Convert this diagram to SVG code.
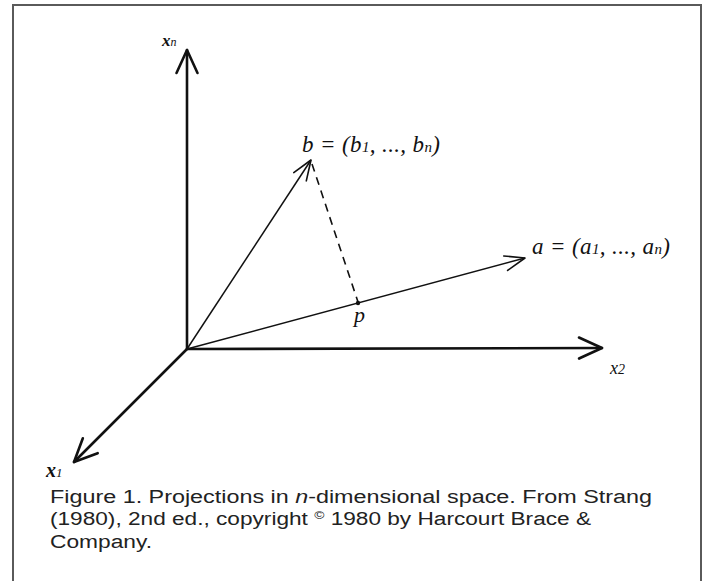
<svg xmlns="http://www.w3.org/2000/svg" width="707" height="581" viewBox="0 0 707 581">
<style>
.frame{fill:none;stroke:#5a5a5a;stroke-width:2}
.axis{fill:none;stroke:#111;stroke-width:2.6;stroke-linecap:round}
.vec{fill:none;stroke:#111;stroke-width:1.5}
.dash{fill:none;stroke:#111;stroke-width:1.6;stroke-dasharray:8 6}
.lbl{font-family:"Liberation Serif",serif;font-style:italic;fill:#111}
.cap{font-family:"Liberation Sans",Arial,sans-serif;font-size:18px;fill:#222}
</style>
<defs>
<marker id="big" markerUnits="userSpaceOnUse" orient="auto" overflow="visible" markerWidth="1" markerHeight="1" refX="0" refY="0">
<path d="M-23,-10.5 L0,0 L-23,10.5" fill="none" stroke="#111" stroke-width="2.6" stroke-linecap="round" stroke-linejoin="round"/>
</marker>
<marker id="small" markerUnits="userSpaceOnUse" orient="auto" overflow="visible" markerWidth="1" markerHeight="1" refX="0" refY="0">
<path d="M-20,-7.5 L0,0 L-20,7.5" fill="none" stroke="#111" stroke-width="1.6" stroke-linecap="round" stroke-linejoin="round"/>
</marker>
</defs>
<rect width="707" height="581" fill="#fff"/>
<path class="frame" d="M13,581 L13,5 L701,5 L701,581"/>
<g id="connectors">
<line id="axis-xn" class="axis" x1="187" y1="349" x2="187" y2="50" marker-end="url(#big)"/>
<line id="axis-x2" class="axis" x1="187" y1="349" x2="602" y2="348" marker-end="url(#big)"/>
<line id="axis-x1" class="axis" x1="187" y1="349" x2="74" y2="462" marker-end="url(#big)"/>
<line id="vec-b" class="vec" x1="187" y1="349" x2="311" y2="160" marker-end="url(#small)"/>
<line id="vec-a" class="vec" x1="187" y1="349" x2="525" y2="258" marker-end="url(#small)"/>
<line id="proj" class="dash" x1="312" y1="164" x2="358" y2="302"/>
</g>
<g id="node-p">
<circle cx="358" cy="303" r="2.2" fill="#111"/>
<text class="lbl" x="354" y="322" font-size="22">p</text>
</g>
<g id="node-xn">
<text class="lbl" x="162" y="46" font-size="17" font-weight="bold">x<tspan font-size="12" font-weight="normal">n</tspan></text>
</g>
<g id="node-x2">
<text class="lbl" x="610" y="374" font-size="18">x<tspan font-size="14">2</tspan></text>
</g>
<g id="node-x1">
<text class="lbl" x="46" y="477" font-size="20" font-weight="bold">x<tspan font-size="13" font-weight="normal">1</tspan></text>
</g>
<g id="node-b">
<text class="lbl" x="302" y="152" font-size="23" textLength="138" lengthAdjust="spacing">b = (b<tspan font-size="15">1</tspan>, ..., b<tspan font-size="15">n</tspan>)</text>
</g>
<g id="node-a">
<text class="lbl" x="532" y="254" font-size="23" textLength="138" lengthAdjust="spacing">a = (a<tspan font-size="15">1</tspan>, ..., a<tspan font-size="15">n</tspan>)</text>
</g>
<g id="caption">
<text class="cap" x="50" y="503" textLength="602" lengthAdjust="spacingAndGlyphs">Figure 1. Projections in <tspan font-style="italic">n</tspan>-dimensional space. From Strang</text>
<text class="cap" x="50" y="525" textLength="541" lengthAdjust="spacingAndGlyphs">(1980), 2nd ed., copyright <tspan font-size="11" dy="-6">©</tspan><tspan dy="6"> 1980 by Harcourt Brace &amp;</tspan></text>
<text class="cap" x="50" y="548" textLength="102" lengthAdjust="spacingAndGlyphs">Company.</text>
</g>
</svg>
